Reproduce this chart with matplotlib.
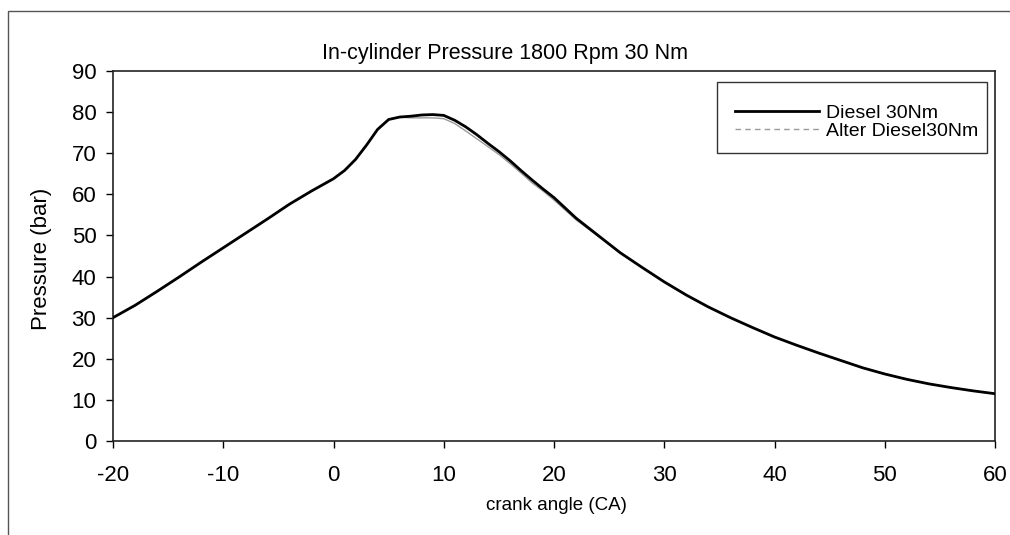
import matplotlib
matplotlib.use("Agg")
import matplotlib.pyplot as plt
from matplotlib.lines import Line2D
from matplotlib.patches import Rectangle

plt.rcParams['font.family'] = ['Liberation Sans', 'DejaVu Sans']
plt.rcParams['axes.unicode_minus'] = False

# crank angle (deg) and in-cylinder pressure (bar)
ca = [-20, -18, -16, -14, -12, -10, -8, -6, -4, -2, 0, 1, 2, 3, 4, 5, 6, 7, 8, 9,
      10, 11, 12, 13, 14, 15, 16, 17, 18, 19, 20, 22, 24, 26, 28, 30, 32, 34, 36,
      38, 40, 42, 44, 46, 48, 50, 52, 54, 56, 58, 60]
diesel = [30.0, 33.0, 36.4, 39.9, 43.5, 47.0, 50.5, 54.0, 57.6, 60.8, 63.8, 65.8,
          68.5, 72.0, 75.8, 78.2, 78.8, 79.0, 79.3, 79.4, 79.2, 78.0, 76.4, 74.5,
          72.4, 70.4, 68.2, 65.8, 63.5, 61.3, 59.2, 54.2, 50.0, 45.8, 42.2, 38.7,
          35.5, 32.6, 30.0, 27.6, 25.3, 23.3, 21.4, 19.6, 17.8, 16.3, 15.0, 13.9,
          13.0, 12.2, 11.5]
alter = [30.0, 33.0, 36.4, 39.9, 43.5, 47.0, 50.5, 54.0, 57.6, 60.8, 63.8, 65.8,
         68.5, 72.0, 75.8, 78.2, 78.8, 78.6, 78.6, 78.6, 78.4, 77.2, 75.4, 73.5,
         71.6, 69.7, 67.5, 65.2, 62.8, 60.8, 58.6, 53.8, 49.8, 45.8, 42.2, 38.7,
         35.5, 32.6, 30.0, 27.6, 25.3, 23.3, 21.4, 19.6, 17.8, 16.3, 15.0, 13.9,
         13.0, 12.2, 11.5]

fig = plt.figure(figsize=(10.1, 5.35), dpi=100)
ax = fig.add_axes([0.1119, 0.1757, 0.8733, 0.6916])

ax.plot(ca, alter, color='#9a9a9a', lw=1.0, zorder=2)
ax.plot(ca, diesel, color='black', lw=2.0, zorder=3)

ax.set_xlim(-20, 60)
ax.set_ylim(0, 90)
ax.set_xticks(range(-20, 61, 10))
ax.set_yticks(range(0, 91, 10))
ax.tick_params(axis='x', direction='out', length=5, width=1, pad=12, labelsize=16)
ax.tick_params(axis='y', direction='out', length=5, width=1, pad=7, labelsize=16)
for s in ax.spines.values():
    s.set_linewidth(1.2)
    s.set_color('#222222')

fig.text(0.5, 1 - 53 / 535, 'In-cylinder Pressure 1800 Rpm 30 Nm',
         ha='center', va='center', fontsize=15.5)
fig.text(556 / 1010, 1 - 505 / 535, 'crank angle (CA)', ha='center', va='center', fontsize=13.5)
fig.text(41 / 1010, 1 - 259 / 535, 'Pressure (bar)', ha='center', va='center',
         rotation=90, fontsize=16)

handles = [Line2D([], [], color='black', lw=2.0),
           Line2D([], [], color='#9a9a9a', lw=1.0, ls=(0, (4, 3)))]
leg = ax.legend(handles, ['Diesel 30Nm', 'Alter Diesel30Nm'], loc='center left',
                bbox_to_anchor=(735 / 1010, 1 - 122 / 535), bbox_transform=fig.transFigure,
                fontsize=14, frameon=False, handlelength=4.3,
                handletextpad=0.36, labelspacing=0.05, borderpad=0, borderaxespad=0)

# legend box
fig.patches.append(Rectangle((717 / 1010, 1 - 153 / 535), 270 / 1010, 71 / 535,
                             transform=fig.transFigure, fill=False,
                             edgecolor='#333333', lw=1.0, zorder=5))

# outer chart frame
fig.patches.append(Rectangle((8 / 1010, -0.05), 1.2, 1 - 11 / 535 + 0.05,
                             transform=fig.transFigure, fill=False,
                             edgecolor='#555555', lw=1.0))

fig.savefig('out.png', dpi=100)
